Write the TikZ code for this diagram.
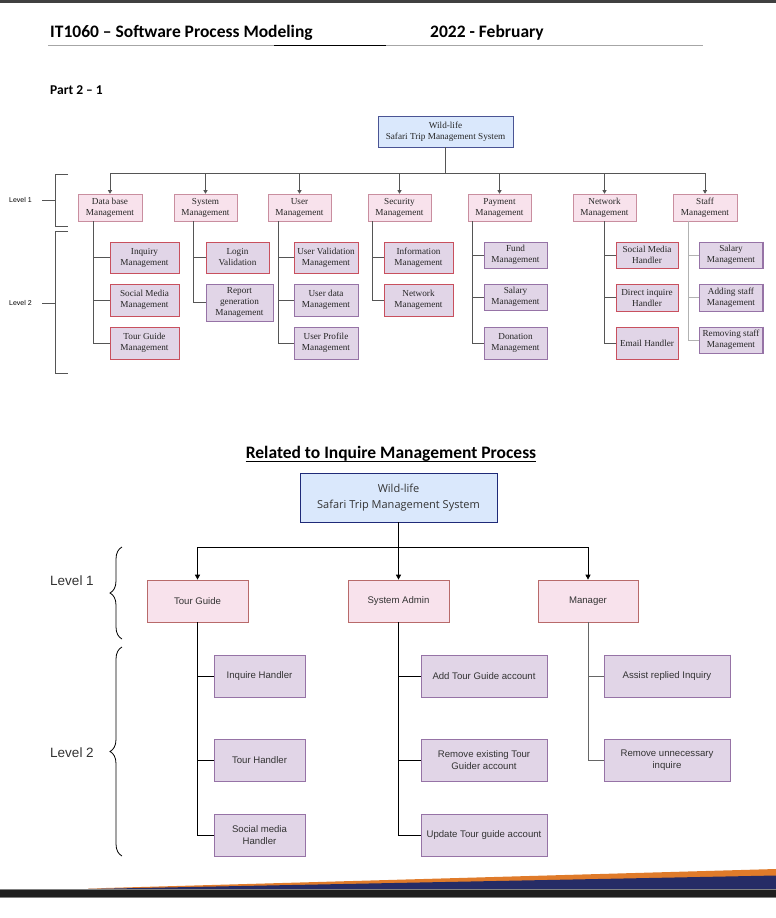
\documentclass[tikz,border=0pt]{standalone}
\usepackage{fontspec}
\setmainfont{Liberation Serif}
\newfontfamily\calfont{Carlito}
\newfontfamily\arialfont{Liberation Sans}
\newfontfamily\osfont{Open Sans}
\usetikzlibrary{arrows.meta,decorations.pathreplacing}
\definecolor{troF}{HTML}{DAE8FC}
\definecolor{troD}{HTML}{4A5494}
\definecolor{pinkF}{HTML}{F8E2EC}
\definecolor{pinkD}{HTML}{C98E9F}
\definecolor{lavF}{HTML}{E1D5E7}
\definecolor{redD}{HTML}{C8505E}
\definecolor{purD}{HTML}{9673A6}
\definecolor{connG}{HTML}{555555}
\definecolor{bpinkD}{HTML}{B86A6A}
\definecolor{broD}{HTML}{1F2A78}
\definecolor{txt}{HTML}{333333}
\definecolor{navy}{HTML}{262C66}
\definecolor{orng}{HTML}{E07B2A}
\begin{document}
\begin{tikzpicture}[x=1pt,y=-1pt,
  tbox/.style={draw, align=center, inner sep=0pt, line width=0.6pt, text=black!85, font=\fontsize{9.2}{11}\selectfont},
  troot/.style={tbox, fill=troF, draw=troD, line width=0.8pt},
  tlone/.style={tbox, fill=pinkF, draw=pinkD, minimum width=63pt, minimum height=27pt},
  tred/.style={tbox, fill=lavF, draw=redD},
  tpur/.style={tbox, fill=lavF, draw=purD},
  tconn/.style={draw=connG, line width=0.6pt},
  tarr/.style={tconn, -{Triangle[length=3.5pt,width=4pt]}},
  bbox/.style={draw, align=center, inner sep=0pt, line width=0.7pt, text=txt, font=\arialfont\fontsize{9.6}{12.5}\selectfont},
  broot/.style={bbox, fill=troF, draw=broD, line width=0.9pt, font=\osfont\fontsize{11}{16}\selectfont},
  bone/.style={bbox, fill=pinkF, draw=bpinkD, minimum width=101pt, minimum height=42pt},
  btwo/.style={bbox, fill=lavF, draw=purD, minimum height=42pt},
  bconn/.style={draw=black, line width=0.8pt},
  barr/.style={bconn, -{Triangle[length=5pt,width=5pt]}},
  hdr/.style={anchor=base west, inner sep=0pt, font=\calfont\bfseries\fontsize{17.5}{20}\selectfont},
  brc/.style={draw=black, line width=0.8pt, decorate, decoration={brace, amplitude=12pt}},
]
\useasboundingbox (0,0) rectangle (776,918);
\fill[white] (0,0) rectangle (776,918);
% header
\fill[black!75] (0,0) rectangle (776,2.5);
\node[hdr] (hd1) at (50,37.5) {IT1060 – Software Process Modeling};
\node[hdr] (hd2) at (430,37.5) {2022 - February};
\draw[gray!70, line width=1.3pt] (48,45.5) -- (703,45.5);
\draw[black, line width=1.3pt] (274,45.5) -- (386,45.5);
\node[hdr, font=\calfont\bfseries\fontsize{13.5}{16}\selectfont] (part) at (50,94) {Part 2 – 1};

% ---------- top diagram ----------
\node[troot, minimum width=135pt, minimum height=31pt] (troot) at (445.5,131.5) {Wild-life\\Safari Trip Management System};
\node[tlone, minimum width=64pt] (db) at (110,207.5) {Data base\\Management};
\node[tlone] (sys) at (205.5,207.5) {System\\Management};
\node[tlone] (usr) at (299.5,207.5) {User\\Management};
\node[tlone] (sec) at (399.5,207.5) {Security\\Management};
\node[tlone] (pay) at (499.5,207.5) {Payment\\Management};
\node[tlone] (net) at (604.5,207.5) {Network\\Management};
\node[tlone, minimum width=64pt] (stf) at (705,207.5) {Staff\\Management};

\draw[tconn] (troot.south) -- ++(0,26) coordinate (thub);
\foreach \n in {db,sys,usr,sec,pay,net,stf} {\draw[tarr] (thub) -| (\n.north);}

\node[tred, minimum width=69pt, minimum height=31pt] (db1) at (144.5,257.5) {Inquiry\\Management};
\node[tred, minimum width=69pt, minimum height=32pt] (db2) at (144.5,300) {Social Media\\Management};
\node[tred, minimum width=69pt, minimum height=32pt] (db3) at (144.5,343) {Tour Guide\\Management};
\node[tred, minimum width=63pt, minimum height=31pt] (sy1) at (237.5,257.5) {Login\\Validation};
\node[tpur, minimum width=67pt, minimum height=37pt] (sy2) at (239.5,302.5) {Report\\generation\\Management};
\node[tred, minimum width=64pt, minimum height=31pt] (us1) at (326,257.5) {User Validation\\Management};
\node[tpur, minimum width=64pt, minimum height=32pt] (us2) at (326,300) {User data\\Management};
\node[tpur, minimum width=64pt, minimum height=32pt] (us3) at (326,343) {User Profile\\Management};
\node[tred, minimum width=69pt, minimum height=31pt] (se1) at (418.5,257.5) {Information\\Management};
\node[tred, minimum width=69pt, minimum height=32pt] (se2) at (418.5,300) {Network\\Management};
\node[tpur, minimum width=63pt, minimum height=26pt] (pa1) at (515.5,255) {Fund\\Management};
\node[tpur, minimum width=63pt, minimum height=26pt] (pa2) at (515.5,297) {Salary\\Management};
\node[tpur, minimum width=63pt, minimum height=32pt] (pa3) at (515.5,343) {Donation\\Management};
\node[tred, minimum width=62pt, minimum height=26pt] (ne1) at (647,255) {Social Media\\Handler};
\node[tred, minimum width=62pt, minimum height=27pt] (ne2) at (647,297.5) {Direct inquire\\Handler};
\node[tred, minimum width=62pt, minimum height=32pt] (ne3) at (647,343) {Email Handler};
\node[tpur, minimum width=64pt, minimum height=26pt] (st1) at (731,255) {Salary\\Management};
\node[tpur, minimum width=64pt, minimum height=27pt] (st2) at (731,297.5) {Adding staff\\Management};
\node[tpur, minimum width=64pt, minimum height=26pt] (st3) at (731,340) {Removing staff\\Management};
\foreach \n in {st1,st2,st3} {\draw[purD, line width=1.8pt] (\n.north east) -- (\n.south east);}

\foreach \n in {db1,db2,db3} {\draw[tconn] (db.south west) ++(16,0) |- (\n.west);}
\foreach \n in {sy1,sy2} {\draw[tconn] (sys.south west) ++(20,0) |- (\n.west);}
\foreach \n in {us1,us2,us3} {\draw[tconn] (usr.south west) ++(11,0) |- (\n.west);}
\foreach \n in {se1,se2} {\draw[tconn] (sec.south west) ++(5,0) |- (\n.west);}
\foreach \n in {pa1,pa2,pa3} {\draw[tconn] (pay.south west) ++(5,0) |- (\n.west);}
\foreach \n in {ne1,ne2,ne3} {\draw[tconn] (net.south) |- (\n.west);}
\foreach \n in {st1,st2,st3} {\draw[tconn, draw=gray!60] (stf.south west) ++(16,0) |- (\n.west);}

% top level brackets
\node[font=\arialfont\fontsize{7}{8}\selectfont, inner sep=0pt] (lv1t) at (20.5,200) {Level 1};
\node[font=\arialfont\fontsize{7}{8}\selectfont, inner sep=0pt] (lv2t) at (20.5,303) {Level 2};
\draw[tconn, line width=0.9pt] (68,174) -- (55,174) -- (55,226) -- (68,226);
\draw[tconn, line width=0.9pt] (42,200) -- (55,200);
\draw[tconn, line width=0.9pt] (68,231) -- (55,231) -- (55,373) -- (68,373);
\draw[tconn, line width=0.9pt] (42,303) -- (55,303);

% ---------- bottom diagram ----------
\node[anchor=base, inner sep=0pt, font=\calfont\bfseries\fontsize{17.5}{20}\selectfont] (title) at (391,458) {Related to Inquire Management Process};
\draw[line width=1pt] ([yshift=-3.5pt]title.base west) -- ([yshift=-3.5pt]title.base east);

\node[broot, minimum width=197pt, minimum height=49pt] (broot) at (398.5,497.5) {Wild-life\\Safari Trip Management System};
\node[bone] (tg) at (197.5,601) {Tour Guide};
\node[bone] (sa) at (398.5,601) {System Admin};
\node[bone, minimum width=100pt] (mg) at (588,601) {Manager};
\draw[bconn] (broot.south) -- ++(0,25) coordinate (bhub);
\draw[barr] (bhub) -| (tg.north);
\draw[barr] (bhub) -- (sa.north);
\draw[barr] (bhub) -| (mg.north);

\node[btwo, minimum width=91pt] (t1) at (259.5,676) {Inquire Handler};
\node[btwo, minimum width=91pt] (t2) at (259.5,760) {Tour Handler};
\node[btwo, minimum width=91pt] (t3) at (259.5,835) {Social media\\Handler};
\node[btwo, minimum width=126pt] (s1) at (484,676) {Add Tour Guide account};
\node[btwo, minimum width=126pt] (s2) at (484,760) {Remove existing Tour\\Guider account};
\node[btwo, minimum width=126pt] (s3) at (484,835) {Update Tour guide account};
\node[btwo, minimum width=126pt] (m1) at (667,676) {Assist replied Inquiry};
\node[btwo, minimum width=126pt] (m2) at (667,760) {Remove unnecessary\\inquire};
\foreach \n in {m1,m2} {\draw[purD, line width=1.5pt] (\n.north east) -- (\n.south east);}

\foreach \n in {t1,t2,t3} {\draw[bconn] (tg.south) |- (\n.west);}
\foreach \n in {s1,s2,s3} {\draw[bconn] (sa.south) |- (\n.west);}
\foreach \n in {m1,m2} {\draw[bconn, draw=black!60] (mg.south) |- (\n.west);}

\node[font=\arialfont\fontsize{13.5}{16}\selectfont, text=txt] (lv1b) at (72,581) {Level 1};
\node[font=\arialfont\fontsize{13.5}{16}\selectfont, text=txt] (lv2b) at (72,753) {Level 2};
\draw[brc] (122,639) -- (122,547);
\draw[brc] (122,856) -- (122,647);

% footer
\fill[orng] (88,888.5) -- (776,869) -- (776,889) -- cycle;
\fill[navy] (88,889) -- (776,875.5) -- (776,889) -- cycle;
\fill[black!88] (0,889) rectangle (776,897);
\draw[gray, line width=0.6pt] (0,889) -- (776,889);
\draw[gray, line width=0.6pt] (0,897) -- (776,897);
\end{tikzpicture}
\end{document}
